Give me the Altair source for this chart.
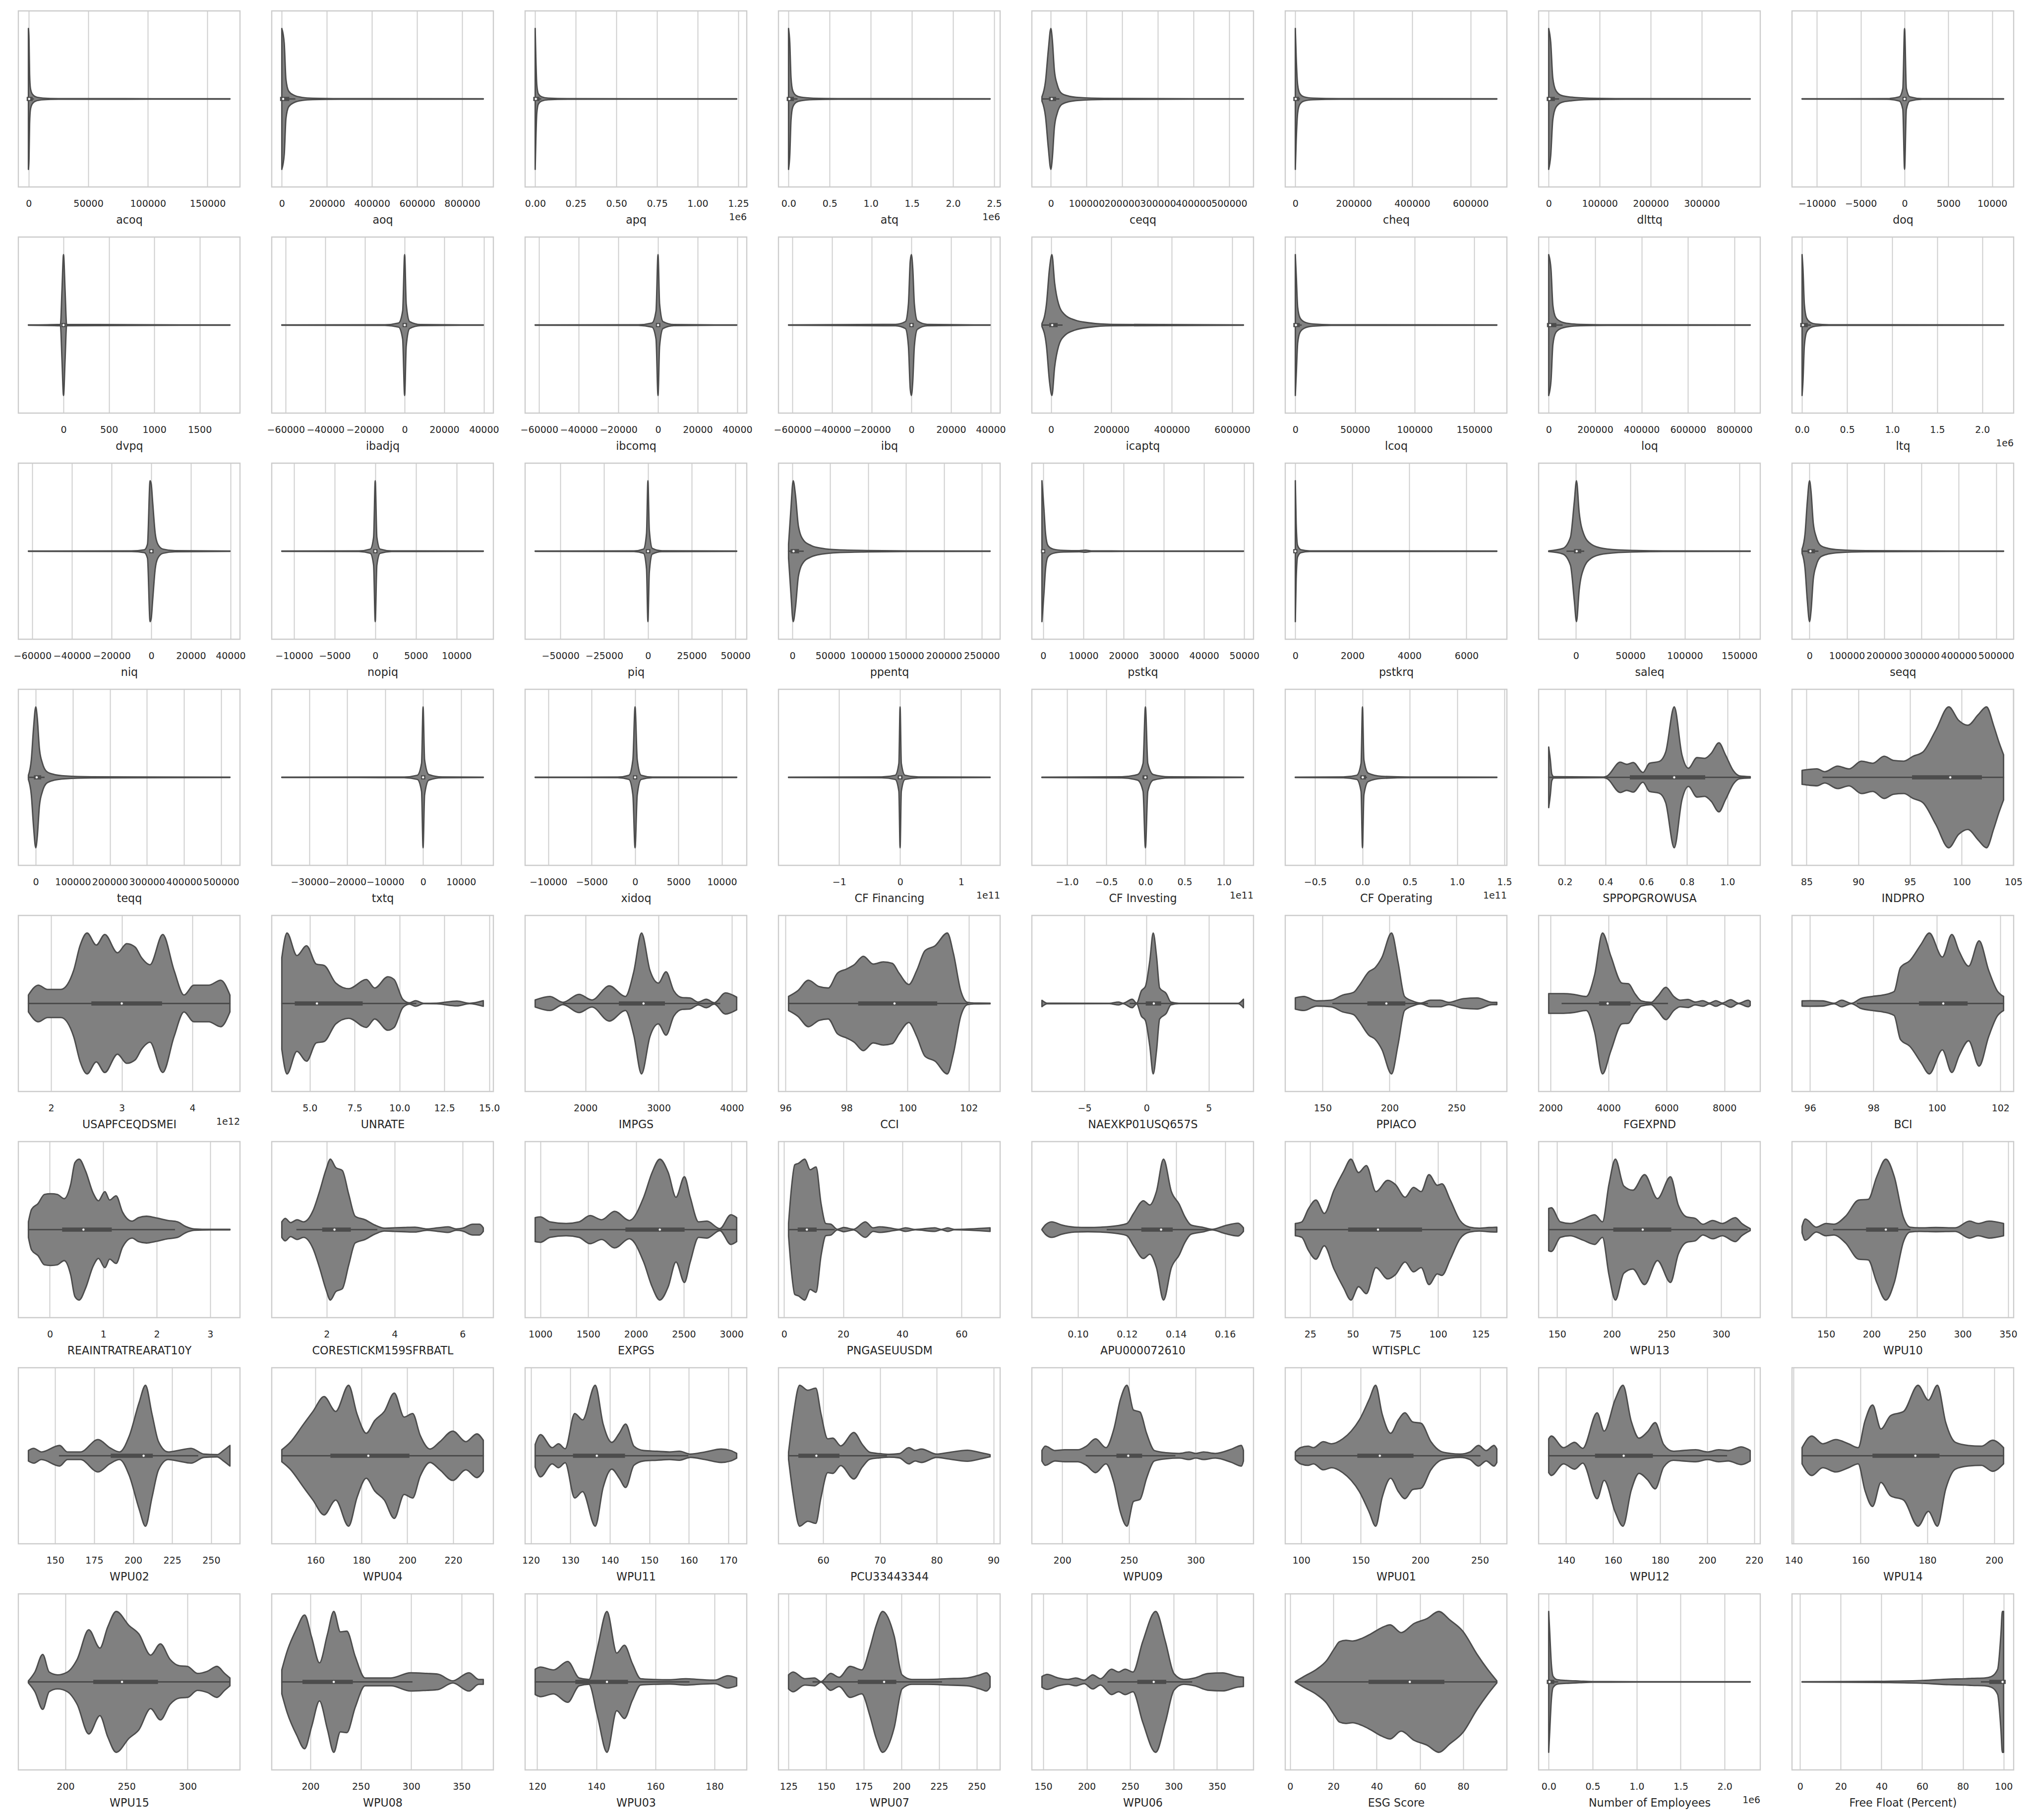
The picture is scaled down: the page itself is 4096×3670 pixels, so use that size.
import altair as alt
import pandas as pd

# ---------------- data (violin profiles) ----------------
# *_x : positions along the value axis, *_d : relative density (1 = widest point)
# *_box : [whisker low, q1, median, q3, whisker high], *_ticks : tick values

acoq_x = [-200, 300, 800, 1500, 3000, 6000, 12000, 25000, 168800]
acoq_d = [1.0, 0.85, 0.35, 0.15, 0.07, 0.03, 0.012, 0.005, 0.002]
acoq_box = [-200, 100, 400, 1600, 3800]
acoq_ticks = [0, 50000, 100000, 150000]

aoq_x = [0, 10800, 18300, 30500, 53500, 91700, 137500, 260000, 893600]
aoq_d = [1.0, 0.79, 0.28, 0.11, 0.053, 0.021, 0.01, 0.004, 0.002]
aoq_box = [0, 1500, 6000, 24000, 57000]
aoq_ticks = [0, 200000, 400000, 600000, 800000]

apq_x = [0, 0.004, 0.01, 0.02, 0.04, 0.08, 0.2, 1.24]
apq_d = [1.0, 0.6, 0.2, 0.07, 0.03, 0.012, 0.004, 0.002]
apq_box = [0, 0.001, 0.004, 0.014, 0.033]
apq_ticks = [0, 0.25, 0.5, 0.75, 1.0, 1.25]

atq_x = [0, 0.015, 0.03, 0.05, 0.09, 0.15, 0.3, 0.6, 2.45]
atq_d = [1.0, 0.8, 0.3, 0.12, 0.05, 0.025, 0.01, 0.004, 0.002]
atq_box = [0, 0.003, 0.01, 0.04, 0.1]
atq_ticks = [0, 0.5, 1.0, 1.5, 2.0, 2.5]

ceqq_x = [-25000, -15000, -7000, 0, 4000, 10000, 18000, 30000, 50000, 80000, 150000, 540000]
ceqq_d = [0.03, 0.25, 0.7, 1.0, 0.85, 0.4, 0.2, 0.08, 0.04, 0.02, 0.008, 0.002]
ceqq_box = [-25000, 500, 2500, 9000, 22000]
ceqq_ticks = [0, 100000, 200000, 300000, 400000, 500000]

cheq_x = [0, 3000, 8000, 15000, 30000, 60000, 150000, 690000]
cheq_d = [1.0, 0.6, 0.2, 0.08, 0.03, 0.012, 0.004, 0.002]
cheq_box = [0, 300, 1500, 6000, 14000]
cheq_ticks = [0, 200000, 400000, 600000]

dlttq_x = [0, 4000, 8000, 14000, 25000, 45000, 80000, 150000, 395000]
dlttq_d = [1.0, 0.8, 0.3, 0.12, 0.05, 0.025, 0.01, 0.004, 0.002]
dlttq_box = [0, 200, 1500, 8000, 19000]
dlttq_ticks = [0, 100000, 200000, 300000]

doq_x = [-11700, -2000, -600, -200, 0, 200, 600, 2000, 11300]
doq_d = [0.002, 0.005, 0.03, 0.15, 1.0, 0.15, 0.03, 0.005, 0.002]
doq_box = [-50, 0, 0, 0, 50]
doq_ticks = [-10000, -5000, 0, 5000, 10000]

dvpq_x = [-387, -34, -17, 0, 17, 34, 1834]
dvpq_d = [0.002, 0.01, 0.5, 1.0, 0.5, 0.01, 0.002]
dvpq_box = [-2, 0, 0, 1, 3]
dvpq_ticks = [0, 500, 1000, 1500]

ibadjq_x = [-62000, -10000, -3000, -1000, 0, 800, 2500, 8000, 39700]
ibadjq_d = [0.002, 0.005, 0.03, 0.2, 1.0, 0.3, 0.05, 0.008, 0.002]
ibadjq_box = [-300, 5, 40, 150, 370]
ibadjq_ticks = [-60000, -40000, -20000, 0, 20000, 40000]

ibcomq_x = [-62000, -10000, -3000, -1000, 0, 800, 2500, 8000, 39700]
ibcomq_d = [0.002, 0.005, 0.03, 0.2, 1.0, 0.3, 0.05, 0.008, 0.002]
ibcomq_box = [-300, 5, 40, 150, 370]
ibcomq_ticks = [-60000, -40000, -20000, 0, 20000, 40000]

ibq_x = [-62000, -8000, -3000, -1500, -600, 0, 700, 1500, 3000, 8000, 39700]
ibq_d = [0.002, 0.01, 0.05, 0.3, 0.9, 1.0, 0.8, 0.3, 0.06, 0.01, 0.002]
ibq_box = [-300, 5, 40, 150, 370]
ibq_ticks = [-60000, -40000, -20000, 0, 20000, 40000]

icaptq_x = [-30000, -15000, -5000, 3000, 12000, 25000, 45000, 80000, 130000, 200000, 637000]
icaptq_d = [0.02, 0.3, 0.8, 1.0, 0.6, 0.3, 0.15, 0.07, 0.03, 0.01, 0.002]
icaptq_box = [-30000, 1000, 4000, 15000, 36000]
icaptq_ticks = [0, 200000, 400000, 600000]

lcoq_x = [0, 800, 2000, 4000, 8000, 15000, 30000, 168900]
lcoq_d = [1.0, 0.7, 0.25, 0.1, 0.04, 0.015, 0.005, 0.002]
lcoq_box = [0, 100, 500, 2000, 4800]
lcoq_ticks = [0, 50000, 100000, 150000]

loq_x = [0, 10000, 18000, 30000, 52000, 90000, 135000, 250000, 868000]
loq_d = [1.0, 0.79, 0.28, 0.11, 0.05, 0.02, 0.01, 0.004, 0.002]
loq_box = [0, 1500, 6000, 24000, 57000]
loq_ticks = [0, 200000, 400000, 600000, 800000]

ltq_x = [0, 0.01, 0.025, 0.05, 0.09, 0.15, 0.3, 2.236]
ltq_d = [1.0, 0.8, 0.3, 0.1, 0.04, 0.015, 0.005, 0.002]
ltq_box = [0, 0.003, 0.01, 0.04, 0.09]
ltq_ticks = [0, 0.5, 1.0, 1.5, 2.0]

niq_x = [-62000, -10000, -3500, -1900, -600, 0, 700, 2000, 3300, 5900, 12000, 39700]
niq_d = [0.002, 0.004, 0.02, 0.1, 1.0, 0.95, 0.7, 0.25, 0.1, 0.03, 0.008, 0.002]
niq_box = [-300, 5, 40, 150, 370]
niq_ticks = [-60000, -40000, -20000, 0, 20000, 40000]

nopiq_x = [-11500, -2000, -600, -200, 0, 200, 600, 2000, 13300]
nopiq_d = [0.002, 0.005, 0.03, 0.2, 1.0, 0.2, 0.03, 0.005, 0.002]
nopiq_box = [-60, 0, 5, 30, 80]
nopiq_ticks = [-10000, -5000, 0, 5000, 10000]

piq_x = [-64400, -8000, -2500, -800, 0, 800, 2500, 8000, 50700]
piq_d = [0.002, 0.005, 0.03, 0.25, 1.0, 0.3, 0.04, 0.006, 0.002]
piq_box = [-400, 10, 70, 250, 600]
piq_ticks = [-50000, -25000, 0, 25000, 50000]

ppentq_x = [-5100, -2000, 1000, 4000, 8000, 15000, 25000, 40000, 60000, 100000, 150000, 261000]
ppentq_d = [0.1, 0.6, 1.0, 0.8, 0.35, 0.15, 0.08, 0.04, 0.02, 0.01, 0.005, 0.002]
ppentq_box = [-5100, 300, 1500, 6000, 14000]
ppentq_ticks = [0, 50000, 100000, 150000, 200000, 250000]

pstkq_x = [-300, 200, 600, 1200, 2500, 5000, 9000, 10500, 12000, 20000, 49800]
pstkq_d = [1.0, 0.6, 0.25, 0.08, 0.03, 0.012, 0.008, 0.015, 0.005, 0.003, 0.002]
pstkq_box = [-300, 0, 0, 0, 0]
pstkq_ticks = [0, 10000, 20000, 30000, 40000, 50000]

pstkrq_x = [0, 30, 80, 200, 500, 7064]
pstkrq_d = [1.0, 0.4, 0.08, 0.02, 0.005, 0.002]
pstkrq_box = [0, 0, 0, 0, 0]
pstkrq_ticks = [0, 2000, 4000, 6000]

saleq_x = [-25000, -12000, -5000, -1500, 500, 3000, 7000, 14000, 25000, 45000, 80000, 160000]
saleq_d = [0.005, 0.04, 0.2, 0.7, 1.0, 0.55, 0.25, 0.1, 0.04, 0.015, 0.005, 0.002]
saleq_box = [-8000, 100, 700, 3000, 7000]
saleq_ticks = [0, 50000, 100000, 150000]

seqq_x = [-20000, -12000, -6000, 0, 4000, 10000, 18000, 30000, 50000, 80000, 150000, 520000]
seqq_d = [0.03, 0.25, 0.7, 1.0, 0.85, 0.4, 0.2, 0.08, 0.04, 0.02, 0.008, 0.002]
seqq_box = [-20000, 500, 2500, 9000, 22000]
seqq_ticks = [0, 100000, 200000, 300000, 400000, 500000]

teqq_x = [-19800, -12000, -6000, 0, 4000, 10000, 18000, 30000, 50000, 80000, 150000, 523800]
teqq_d = [0.03, 0.25, 0.7, 1.0, 0.85, 0.4, 0.2, 0.08, 0.04, 0.02, 0.008, 0.002]
teqq_box = [-19800, 500, 2500, 9000, 22000]
teqq_ticks = [0, 100000, 200000, 300000, 400000, 500000]

txtq_x = [-37300, -5000, -1500, -400, 0, 400, 1500, 5000, 15900]
txtq_d = [0.002, 0.005, 0.03, 0.2, 1.0, 0.25, 0.04, 0.006, 0.002]
txtq_box = [-100, 0, 10, 50, 130]
txtq_ticks = [-30000, -20000, -10000, 0, 10000]

xidoq_x = [-11500, -2000, -700, -250, 0, 250, 700, 2000, 11700]
xidoq_d = [0.002, 0.004, 0.03, 0.25, 1.0, 0.25, 0.03, 0.004, 0.002]
xidoq_box = [-60, 0, 0, 10, 40]
xidoq_ticks = [-10000, -5000, 0, 5000, 10000]

cf_fin_x = [-1.83, -0.3, -0.08, -0.02, 0, 0.02, 0.08, 0.3, 1.476]
cf_fin_d = [0.003, 0.006, 0.03, 0.2, 1.0, 0.2, 0.03, 0.006, 0.003]
cf_fin_box = [-0.03, -0.005, 0, 0.005, 0.03]
cf_fin_ticks = [-1, 0, 1]

cf_inv_x = [-1.32, -0.3, -0.1, -0.03, 0, 0.03, 0.1, 0.3, 1.25]
cf_inv_d = [0.003, 0.008, 0.04, 0.2, 1.0, 0.2, 0.04, 0.008, 0.003]
cf_inv_box = [-0.03, -0.01, -0.001, 0.002, 0.02]
cf_inv_ticks = [-1.0, -0.5, 0.0, 0.5, 1.0]

cf_op_x = [-0.71, -0.2, -0.06, -0.015, 0, 0.015, 0.06, 0.2, 0.5, 1.42]
cf_op_d = [0.003, 0.006, 0.03, 0.2, 1.0, 0.25, 0.06, 0.015, 0.005, 0.003]
cf_op_box = [-0.02, 0, 0.003, 0.015, 0.04]
cf_op_ticks = [-0.5, 0.0, 0.5, 1.0, 1.5]

sppop_x = [0.12, 0.128, 0.135, 0.145, 0.39, 0.408, 0.472, 0.504, 0.536, 0.584, 0.616, 0.664,
           0.696, 0.738, 0.776, 0.808, 0.85, 0.888, 0.92, 0.958, 0.99, 1.03, 1.06, 1.112]
sppop_d = [0.43, 0.25, 0.05, 0.01, 0.005, 0.02, 0.215, 0.185, 0.21, 0.07, 0.2, 0.225,
           0.36, 1.0, 0.32, 0.13, 0.28, 0.27, 0.34, 0.49, 0.32, 0.09, 0.02, 0.01]
sppop_box = [0.12, 0.53, 0.738, 0.88, 1.112]
sppop_ticks = [0.2, 0.4, 0.6, 0.8, 1.0]

indpro_x = [84.56, 85.3, 86.0, 86.75, 88.0, 89.1, 90.3, 91.4, 92.5, 93.4, 94.4, 95.3, 96.25,
            97.5, 98.75, 99.7, 100.6, 101.6, 102.4, 103.1, 103.6, 104.05]
indpro_d = [0.10, 0.113, 0.12, 0.08, 0.16, 0.12, 0.23, 0.2, 0.3, 0.24, 0.23, 0.3, 0.36,
            0.67, 1.0, 0.81, 0.74, 0.89, 1.0, 0.73, 0.5, 0.32]
indpro_box = [86.6, 95.4, 98.9, 101.75, 104.05]
indpro_ticks = [85, 90, 95, 100, 105]

usapf_x = [1.68, 1.82, 1.95, 2.14, 2.32, 2.41, 2.51, 2.64, 2.76, 2.94, 3.07, 3.19, 3.28, 3.40,
           3.58, 3.74, 3.88, 4.02, 4.23, 4.40, 4.53]
usapf_d = [0.12, 0.26, 0.2, 0.2, 0.47, 0.82, 1.0, 0.83, 0.98, 0.72, 0.85, 0.8, 0.65, 0.55,
           0.98, 0.47, 0.12, 0.26, 0.26, 0.33, 0.12]
usapf_box = [1.68, 2.6, 3.0, 3.54, 4.53]
usapf_ticks = [2, 3, 4]

unrate_x = [3.44, 3.73, 4.28, 4.82, 5.36, 5.8, 6.45, 7.17, 8.15, 8.62, 9.35, 9.7, 10.18, 10.55,
            10.9, 11.34, 12.07, 13.2, 13.9, 14.67]
unrate_d = [0.65, 1.0, 0.68, 0.82, 0.56, 0.54, 0.29, 0.21, 0.34, 0.22, 0.38, 0.34, 0.06, 0.01,
            0.04, 0.003, 0.005, 0.035, 0.003, 0.04]
unrate_box = [3.44, 4.28, 5.4, 7.83, 10.9]
unrate_ticks = [5.0, 7.5, 10.0, 12.5, 15.0]

impgs_x = [1313, 1515, 1692, 1912, 2088, 2326, 2546, 2660, 2766, 2881, 2996, 3101, 3207, 3322,
           3427, 3542, 3650, 3760, 3912, 4066]
impgs_d = [0.05, 0.1, 0.016, 0.13, 0.05, 0.25, 0.1, 0.45, 1.0, 0.47, 0.29, 0.45, 0.18, 0.084,
           0.078, 0.02, 0.06, 0.01, 0.15, 0.09]
impgs_box = [1700, 2485, 2793, 3057, 3832]
impgs_ticks = [2000, 3000, 4000]

cci_x = [96.1, 96.4, 96.75, 97.1, 97.4, 97.7, 98.0, 98.25, 98.55, 98.87, 99.2, 99.5, 99.72,
         100.04, 100.3, 100.57, 100.9, 101.3, 101.5, 101.74, 101.96, 102.17, 102.7]
cci_d = [0.1, 0.18, 0.33, 0.24, 0.22, 0.43, 0.49, 0.55, 0.67, 0.56, 0.59, 0.57, 0.43,
         0.27, 0.47, 0.75, 0.82, 1.0, 0.71, 0.18, 0.016, 0.006, 0.005]
cci_box = [96.1, 98.45, 99.57, 100.9, 101.96]
cci_ticks = [96, 98, 100, 102]

naexk_x = [-8.42, -8.0, -3.0, -2.26, -1.9, -1.16, -0.8, -0.42, -0.1, 0.26, 0.53, 0.8, 1.05,
           1.58, 1.95, 2.6, 7.37, 7.79]
naexk_d = [0.045, 0.004, 0.003, 0.02, 0.003, 0.06, 0.006, 0.18, 0.24, 0.61, 1.0, 0.67, 0.22,
           0.14, 0.02, 0.003, 0.003, 0.06]
naexk_box = [-1.3, 0.1, 0.58, 1.0, 2.5]
naexk_ticks = [-5, 0, 5]

ppiaco_x = [129.6, 135.9, 145.6, 156.3, 165, 173.3, 177.2, 184.5, 189.3, 194.2, 201.5, 206.3,
            211.2, 217, 223.3, 230.6, 237.9, 244.2, 254.9, 265.5, 276.7, 280.1]
ppiaco_d = [0.08, 0.1, 0.037, 0.047, 0.12, 0.16, 0.25, 0.45, 0.51, 0.65, 1.0, 0.59,
            0.1, 0.037, 0.006, 0.047, 0.047, 0.016, 0.068, 0.078, 0.016, 0.016]
ppiaco_box = [157.8, 185, 197.6, 210.2, 228.2]
ppiaco_ticks = [150, 200, 250]

fgexp_x = [1933, 2447, 2783, 3230, 3520, 3790, 4081, 4461, 4685, 4909, 5133, 5468, 5692, 5982,
           6250, 6474, 6743, 6989, 7257, 7481, 7705, 7928, 8219, 8488, 8823, 8890]
fgexp_d = [0.14, 0.14, 0.13, 0.1, 0.41, 1.0, 0.67, 0.29, 0.28, 0.14, 0.037, 0.016, 0.1, 0.23,
           0.1, 0.047, 0.057, 0.02, 0.04, 0.006, 0.04, 0.006, 0.053, 0.003, 0.047, 0.03]
fgexp_box = [2403, 3745, 3969, 4685, 6027]
fgexp_ticks = [2000, 4000, 6000, 8000]

bci_x = [95.75, 96.0, 96.4, 96.76, 97.0, 97.3, 97.6, 97.96, 98.3, 98.65, 98.85, 99.15, 99.5,
         99.76, 100.17, 100.47, 100.7, 101.0, 101.33, 101.63, 101.9, 102.1]
bci_d = [0.037, 0.04, 0.037, 0.004, 0.047, 0.002, 0.07, 0.1, 0.12, 0.17, 0.51, 0.61, 0.84,
         1.0, 0.66, 0.98, 0.74, 0.53, 0.89, 0.47, 0.18, 0.1]
bci_box = [97.5, 99.5, 100.2, 100.9, 102.1]
bci_ticks = [96, 98, 100, 102]

reain_x = [-0.4, -0.34, -0.22, -0.1, 0.02, 0.14, 0.27, 0.39, 0.47, 0.55, 0.67, 0.81, 0.91, 1.03,
           1.12, 1.24, 1.36, 1.54, 1.66, 1.81, 1.97, 2.21, 2.39, 2.54, 2.7, 3.0, 3.37]
reain_d = [0.11, 0.29, 0.37, 0.5, 0.51, 0.5, 0.44, 0.64, 0.95, 1.0, 0.83, 0.52, 0.41, 0.54,
           0.42, 0.48, 0.25, 0.12, 0.17, 0.19, 0.17, 0.13, 0.11, 0.045, 0.01, 0.004, 0.004]
reain_box = [-0.4, 0.27, 0.63, 1.12, 2.33]
reain_ticks = [0, 1, 2, 3]

core_x = [0.68, 0.78, 0.94, 1.13, 1.32, 1.6, 1.79, 1.98, 2.11, 2.27, 2.46, 2.65, 2.84, 3.13,
          3.41, 3.7, 3.99, 4.28, 4.6, 4.95, 5.27, 5.58, 5.81, 6.0, 6.3, 6.5, 6.61]
core_d = [0.11, 0.16, 0.1, 0.14, 0.11, 0.27, 0.54, 0.85, 1.0, 0.88, 0.84, 0.5, 0.19, 0.14,
          0.066, 0.02, 0.025, 0.03, 0.035, 0.01, 0.025, 0.04, 0.01, 0.02, 0.076, 0.076, 0.025]
core_box = [1.13, 1.93, 2.23, 2.65, 3.47]
core_ticks = [2, 4, 6]

expgs_x = [946, 1000, 1101, 1270, 1405, 1520, 1642, 1777, 1932, 2081, 2169, 2250, 2338, 2419,
           2507, 2568, 2655, 2743, 2878, 2993, 3054]
expgs_d = [0.17, 0.18, 0.11, 0.087, 0.11, 0.2, 0.14, 0.26, 0.13, 0.46, 0.81, 1.0, 0.81, 0.46,
           0.75, 0.46, 0.11, 0.12, 0.014, 0.21, 0.17]
expgs_box = [1101, 1912, 2250, 2487, 3054]
expgs_ticks = [1000, 1500, 2000, 2500, 3000]

pngas_x = [1.5, 2.5, 3.6, 4.8, 7.0, 8.8, 10.8, 12.5, 14.1, 15.8, 18.0, 20.2, 23.5, 27.5, 30.1,
           32.3, 35.6, 38.9, 41.1, 44.4, 51.0, 53.2, 55.4, 57.6, 69.7]
pngas_d = [0.09, 0.6, 0.92, 0.94, 1.0, 0.85, 0.89, 0.37, 0.087, 0.077, 0.004, 0.03, 0.005, 0.11,
           0.025, 0.04, 0.025, 0.004, 0.025, 0.003, 0.025, 0.003, 0.025, 0.003, 0.025]
pngas_box = [1.5, 5.3, 7.7, 10.3, 16.9]
pngas_ticks = [0, 20, 40, 60]

apu_x = [0.0853, 0.0867, 0.0893, 0.0933, 0.0987, 0.104, 0.1093, 0.116, 0.12, 0.1227, 0.1267,
         0.1293, 0.132, 0.1349, 0.1381, 0.1413, 0.1435, 0.1461, 0.1507, 0.1547, 0.16, 0.1653,
         0.1675]
apu_d = [0.004, 0.066, 0.11, 0.066, 0.035, 0.03, 0.035, 0.056, 0.087, 0.23, 0.41, 0.35, 0.54,
         1.0, 0.54, 0.36, 0.19, 0.066, 0.035, 0.004, 0.056, 0.09, 0.025]
apu_box = [0.112, 0.1267, 0.1339, 0.1378, 0.1547]
apu_ticks = [0.10, 0.12, 0.14, 0.16]

wti_x = [16.3, 20.1, 23.9, 28.4, 33.3, 39.0, 44.7, 48.9, 53.4, 57.95, 63.6, 70.5, 75, 80.7, 85.6,
         90.15, 94.7, 99.6, 102.3, 107.2, 112.9, 118.6, 124.2, 129.9, 134.5]
wti_d = [0.087, 0.11, 0.29, 0.42, 0.23, 0.56, 0.83, 1.0, 0.81, 0.91, 0.54, 0.7, 0.64, 0.46, 0.6,
         0.54, 0.78, 0.63, 0.65, 0.42, 0.13, 0.035, 0.02, 0.03, 0.035]
wti_box = [16.3, 48.5, 64.8, 89.4, 118.6]
wti_ticks = [25, 50, 75, 100, 125]

wpu13_x = [142.3, 144.7, 153, 161.9, 173.7, 184.4, 191.5, 197.4, 203.3, 211, 219.3, 230, 241.8,
           253.7, 260.8, 268.5, 276.2, 283.3, 292.2, 301.1, 313, 318.9, 326.6]
wpu13_d = [0.3, 0.31, 0.11, 0.087, 0.15, 0.21, 0.11, 0.64, 1.0, 0.62, 0.56, 0.78, 0.44,
           0.75, 0.35, 0.18, 0.16, 0.076, 0.13, 0.087, 0.17, 0.087, 0.014]
wpu13_box = [142.3, 203.3, 228.3, 252.5, 323.6]
wpu13_ticks = [150, 200, 250, 300]

wpu10_x = [123.7, 127.2, 139.3, 150, 158.5, 171.5, 185.8, 196.4, 205.7, 215.7, 225, 235.1, 242.2,
           252.8, 270.6, 292, 307.7, 317, 329.1, 345]
wpu10_d = [0.045, 0.15, 0.035, 0.087, 0.076, 0.19, 0.42, 0.43, 0.75, 1.0, 0.75, 0.17, 0.035,
           0.025, 0.03, 0.025, 0.12, 0.087, 0.12, 0.087]
wpu10_box = [158.5, 196.3, 215.7, 227, 242]
wpu10_ticks = [150, 200, 250, 300, 350]

wpu02_x = [132.9, 136.25, 141.25, 152.9, 157.9, 166.25, 177.5, 185, 191.25, 197.5, 203.75, 207.9,
           212.1, 216.25, 222.5, 228.75, 237.1, 245.4, 253.75, 257.9, 262]
wpu02_d = [0.075, 0.105, 0.054, 0.146, 0.054, 0.054, 0.23, 0.115, 0.054, 0.28, 0.75, 1.0,
           0.59, 0.2, 0.054, 0.075, 0.105, 0.023, 0.016, 0.075, 0.146]
wpu02_box = [152.9, 187, 206.7, 211.25, 241.25]
wpu02_ticks = [150, 175, 200, 225, 250]

wpu04_x = [145.3, 148.95, 154.6, 158.9, 163.7, 168.8, 174.4, 178.1, 182.1, 185.8, 190, 194.3,
           198.6, 202.3, 205.6, 209.9, 214.2, 219.8, 225.5, 230.3, 233.1]
wpu04_d = [0.085, 0.19, 0.44, 0.63, 0.84, 0.63, 1.0, 0.59, 0.32, 0.5, 0.63, 0.89,
           0.55, 0.6, 0.29, 0.095, 0.2, 0.35, 0.2, 0.31, 0.22]
wpu04_box = [145.3, 167.4, 183, 200, 233.1]
wpu04_ticks = [160, 180, 200, 220]

wpu11_x = [121.1, 122.45, 125.4, 127, 128.7, 131.1, 133.1, 136.3, 138.3, 140.5, 142.4, 144.0,
           146.1, 148.6, 151.9, 155.1, 157.6, 160.4, 164.1, 168.2, 170.6, 172.1]
wpu11_d = [0.16, 0.3, 0.115, 0.17, 0.1, 0.6, 0.51, 1.0, 0.45, 0.19, 0.32, 0.45,
           0.136, 0.074, 0.064, 0.054, 0.064, 0.023, 0.054, 0.095, 0.074, 0.033]
wpu11_box = [121.1, 131.2, 136.7, 143.3, 159.7]
wpu11_ticks = [120, 130, 140, 150, 160, 170]

pcu_x = [53.9, 54.7, 55.85, 57.3, 58.7, 59.6, 60.8, 61.7, 63.1, 65.4, 66.9, 68.2, 69.9, 71.6,
         73.4, 75.1, 76.2, 77.3, 80.0, 82.0, 85.4, 87.7, 89.4]
pcu_d = [0.05, 0.55, 1.0, 0.93, 0.96, 0.6, 0.24, 0.25, 0.14, 0.33, 0.16, 0.05, 0.03, 0.02,
         0.03, 0.115, 0.075, 0.095, 0.023, 0.045, 0.078, 0.045, 0.015]
pcu_box = [53.9, 56, 58.8, 62.5, 71.1]
pcu_ticks = [60, 70, 80, 90]

wpu09_x = [184.8, 187.3, 194.6, 202, 211.8, 218.1, 225, 232.8, 238.7, 243.6, 248.5, 253.4, 258.3,
           263.2, 269.1, 277.9, 287.7, 295.1, 300, 305.9, 314.7, 327, 334.3, 335.8]
wpu09_d = [0.074, 0.136, 0.074, 0.085, 0.085, 0.136, 0.24, 0.115, 0.38, 0.8, 1.0, 0.65, 0.62,
           0.32, 0.074, 0.043, 0.033, 0.054, 0.033, 0.054, 0.033, 0.095, 0.146, 0.074]
wpu09_box = [218.1, 242.2, 249.5, 258.3, 284.3]
wpu09_ticks = [200, 250, 300]

wpu01_x = [95.1, 99.45, 106, 110.4, 118.5, 125.6, 134.9, 142, 148.9, 157.1, 162.5, 168, 175.1,
           181.6, 187.1, 193.6, 200.7, 208.9, 217.1, 225.3, 233.5, 241.7, 248.8, 255.3, 261.9,
           264.2]
wpu01_d = [0.054, 0.115, 0.136, 0.115, 0.2, 0.17, 0.24, 0.35, 0.51, 0.8, 1.0, 0.59, 0.32,
           0.51, 0.61, 0.48, 0.46, 0.2, 0.064, 0.033, 0.023, 0.054, 0.146, 0.074, 0.146, 0.095]
wpu01_box = [95.1, 148.9, 166, 192.5, 249.9]
wpu01_ticks = [100, 150, 200, 250]

wpu12_x = [132.6, 133.7, 138.9, 143.6, 147.1, 153.2, 156.2, 160.9, 164.2, 167.7, 171, 174.6,
           177.9, 181.5, 185.6, 189.7, 195.2, 200.2, 204.9, 209, 214.5, 218.3]
wpu12_d = [0.24, 0.28, 0.115, 0.19, 0.105, 0.61, 0.35, 0.8, 1.0, 0.49, 0.25, 0.34,
           0.47, 0.16, 0.064, 0.074, 0.085, 0.054, 0.085, 0.074, 0.126, 0.074]
wpu12_box = [132.6, 153.2, 164.5, 176, 208.2]
wpu12_ticks = [140, 160, 180, 200, 220]

wpu14_x = [142.5, 145.4, 148.7, 152.6, 156.4, 159.3, 161.3, 163.6, 166.1, 169, 172.9, 177.2,
           180.3, 183, 185.5, 188.4, 192.3, 196.2, 199.5, 202.8]
wpu14_d = [0.115, 0.28, 0.17, 0.23, 0.17, 0.115, 0.49, 0.72, 0.38, 0.57, 0.63, 1.0,
           0.79, 1.0, 0.47, 0.19, 0.146, 0.136, 0.22, 0.115]
wpu14_box = [142.5, 164.2, 176.4, 183, 202.8]
wpu14_ticks = [140, 160, 180, 200]

wpu15_x = [169.7, 175, 181.4, 186.7, 193.6, 201.6, 209.6, 219.1, 228.2, 234.6, 241.5, 252.1,
           260.1, 269.7, 277.7, 285.6, 293.1, 300, 308, 316, 324, 330.3, 334.6]
wpu15_d = [0.015, 0.14, 0.39, 0.14, 0.1, 0.14, 0.32, 0.74, 0.48, 0.78, 1.0, 0.8,
           0.68, 0.38, 0.54, 0.32, 0.23, 0.22, 0.12, 0.15, 0.22, 0.12, 0.056]
wpu15_box = [169.7, 224.5, 246.3, 274, 334.6]
wpu15_ticks = [200, 250, 300]

wpu08_x = [171.6, 176.8, 186.5, 194.2, 201.3, 209, 216.8, 223.2, 229.7, 236.1, 244.5, 254.2,
           263.9, 280, 299.4, 315.5, 326.5, 341.3, 357.4, 367.1, 371.6]
wpu08_d = [0.17, 0.43, 0.76, 0.95, 0.63, 0.27, 0.67, 1.0, 0.71, 0.72, 0.36, 0.056,
           0.056, 0.056, 0.13, 0.12, 0.11, 0.015, 0.13, 0.035, 0.035]
wpu08_box = [171.6, 194.2, 223.2, 240, 300.6]
wpu08_ticks = [200, 250, 300, 350]

wpu03_x = [119.3, 121.1, 125.5, 130.3, 134.2, 137.5, 140.3, 143.6, 146.9, 149.5, 152.2, 155,
           159.4, 164.8, 170.3, 174.6, 180.1, 184.5, 187.5]
wpu03_d = [0.18, 0.21, 0.17, 0.29, 0.056, 0.035, 0.47, 1.0, 0.41, 0.52, 0.26, 0.045,
           0.035, 0.03, 0.045, 0.035, 0.025, 0.087, 0.056]
wpu03_box = [119.3, 133.6, 143.6, 150, 171.3]
wpu03_ticks = [120, 140, 160, 180]

wpu07_x = [125, 128, 135.8, 142.2, 146.6, 153, 158.6, 165.9, 173.7, 178.9, 183.2, 187.5, 195.2,
           200.4, 206.9, 217.7, 230.6, 243.6, 252.2, 256.5, 258.9]
wpu07_d = [0.1, 0.14, 0.045, 0.056, 0.004, 0.12, 0.066, 0.22, 0.17, 0.47, 0.8, 1.0, 0.65,
           0.1, 0.035, 0.035, 0.045, 0.056, 0.1, 0.13, 0.076]
wpu07_box = [141.4, 172.4, 188.5, 195.2, 226.5]
wpu07_ticks = [125, 150, 175, 200, 225, 250]

wpu06_x = [148.5, 154.5, 167.2, 178.4, 187.4, 197.2, 206.9, 215.9, 228.6, 236.8, 244.3, 253.3,
           264.5, 279.5, 290.7, 300.5, 311.7, 324.4, 339.4, 356.6, 373, 380.5]
wpu06_d = [0.076, 0.107, 0.056, 0.035, 0.056, 0.025, 0.1, 0.045, 0.18, 0.14, 0.18, 0.14,
           0.57, 1.0, 0.57, 0.118, 0.035, 0.056, 0.118, 0.128, 0.076, 0.066]
wpu06_box = [224.8, 260.7, 277.2, 289.2, 320.7]
wpu06_ticks = [150, 200, 250, 300, 350]

esg_x = [2.4, 6.3, 12.3, 16.8, 20.4, 22.8, 25.8, 28.8, 33.3, 37.2, 42.3, 46.2, 51.3, 57.3, 63.3,
         68.7, 73.8, 79.8, 86.4, 91.2, 95.5]
esg_d = [0.004, 0.076, 0.18, 0.3, 0.47, 0.57, 0.59, 0.58, 0.62, 0.68, 0.77, 0.81, 0.7, 0.83, 0.9,
         1.0, 0.88, 0.72, 0.39, 0.18, 0.015]
esg_box = [2.4, 37.2, 55.3, 70.3, 95.5]
esg_ticks = [0, 20, 40, 60, 80]

emp_x = [0, 0.012, 0.03, 0.05, 0.1, 0.2, 0.35, 0.5, 1.0, 2.29]
emp_d = [1.0, 0.7, 0.26, 0.08, 0.03, 0.02, 0.012, 0.005, 0.003, 0.002]
emp_box = [0, 0.002, 0.01, 0.04, 0.1]
emp_ticks = [0.0, 0.5, 1.0, 1.5, 2.0]

ffloat_x = [1, 38, 60.5, 73.2, 81.2, 84.4, 90.8, 94, 97.1, 98.7, 99.4, 100]
ffloat_d = [0.003, 0.008, 0.02, 0.04, 0.045, 0.05, 0.056, 0.076, 0.18, 0.68, 1.0, 1.0]
ffloat_box = [89.2, 94, 99.5, 100, 100]
ffloat_ticks = [0, 20, 40, 60, 80, 100]

# (axis title, x, density, box, ticks, tick format, offset text)
PANELS = [
    ("acoq", acoq_x, acoq_d, acoq_box, acoq_ticks, "d", None),
    ("aoq", aoq_x, aoq_d, aoq_box, aoq_ticks, "d", None),
    ("apq", apq_x, apq_d, apq_box, apq_ticks, ".2f", "1e6"),
    ("atq", atq_x, atq_d, atq_box, atq_ticks, ".1f", "1e6"),
    ("ceqq", ceqq_x, ceqq_d, ceqq_box, ceqq_ticks, "d", None),
    ("cheq", cheq_x, cheq_d, cheq_box, cheq_ticks, "d", None),
    ("dlttq", dlttq_x, dlttq_d, dlttq_box, dlttq_ticks, "d", None),
    ("doq", doq_x, doq_d, doq_box, doq_ticks, "d", None),
    ("dvpq", dvpq_x, dvpq_d, dvpq_box, dvpq_ticks, "d", None),
    ("ibadjq", ibadjq_x, ibadjq_d, ibadjq_box, ibadjq_ticks, "d", None),
    ("ibcomq", ibcomq_x, ibcomq_d, ibcomq_box, ibcomq_ticks, "d", None),
    ("ibq", ibq_x, ibq_d, ibq_box, ibq_ticks, "d", None),
    ("icaptq", icaptq_x, icaptq_d, icaptq_box, icaptq_ticks, "d", None),
    ("lcoq", lcoq_x, lcoq_d, lcoq_box, lcoq_ticks, "d", None),
    ("loq", loq_x, loq_d, loq_box, loq_ticks, "d", None),
    ("ltq", ltq_x, ltq_d, ltq_box, ltq_ticks, ".1f", "1e6"),
    ("niq", niq_x, niq_d, niq_box, niq_ticks, "d", None),
    ("nopiq", nopiq_x, nopiq_d, nopiq_box, nopiq_ticks, "d", None),
    ("piq", piq_x, piq_d, piq_box, piq_ticks, "d", None),
    ("ppentq", ppentq_x, ppentq_d, ppentq_box, ppentq_ticks, "d", None),
    ("pstkq", pstkq_x, pstkq_d, pstkq_box, pstkq_ticks, "d", None),
    ("pstkrq", pstkrq_x, pstkrq_d, pstkrq_box, pstkrq_ticks, "d", None),
    ("saleq", saleq_x, saleq_d, saleq_box, saleq_ticks, "d", None),
    ("seqq", seqq_x, seqq_d, seqq_box, seqq_ticks, "d", None),
    ("teqq", teqq_x, teqq_d, teqq_box, teqq_ticks, "d", None),
    ("txtq", txtq_x, txtq_d, txtq_box, txtq_ticks, "d", None),
    ("xidoq", xidoq_x, xidoq_d, xidoq_box, xidoq_ticks, "d", None),
    ("CF Financing", cf_fin_x, cf_fin_d, cf_fin_box, cf_fin_ticks, "d", "1e11"),
    ("CF Investing", cf_inv_x, cf_inv_d, cf_inv_box, cf_inv_ticks, ".1f", "1e11"),
    ("CF Operating", cf_op_x, cf_op_d, cf_op_box, cf_op_ticks, ".1f", "1e11"),
    ("SPPOPGROWUSA", sppop_x, sppop_d, sppop_box, sppop_ticks, ".1f", None),
    ("INDPRO", indpro_x, indpro_d, indpro_box, indpro_ticks, "d", None),
    ("USAPFCEQDSMEI", usapf_x, usapf_d, usapf_box, usapf_ticks, "d", "1e12"),
    ("UNRATE", unrate_x, unrate_d, unrate_box, unrate_ticks, ".1f", None),
    ("IMPGS", impgs_x, impgs_d, impgs_box, impgs_ticks, "d", None),
    ("CCI", cci_x, cci_d, cci_box, cci_ticks, "d", None),
    ("NAEXKP01USQ657S", naexk_x, naexk_d, naexk_box, naexk_ticks, "d", None),
    ("PPIACO", ppiaco_x, ppiaco_d, ppiaco_box, ppiaco_ticks, "d", None),
    ("FGEXPND", fgexp_x, fgexp_d, fgexp_box, fgexp_ticks, "d", None),
    ("BCI", bci_x, bci_d, bci_box, bci_ticks, "d", None),
    ("REAINTRATREARAT10Y", reain_x, reain_d, reain_box, reain_ticks, "d", None),
    ("CORESTICKM159SFRBATL", core_x, core_d, core_box, core_ticks, "d", None),
    ("EXPGS", expgs_x, expgs_d, expgs_box, expgs_ticks, "d", None),
    ("PNGASEUUSDM", pngas_x, pngas_d, pngas_box, pngas_ticks, "d", None),
    ("APU000072610", apu_x, apu_d, apu_box, apu_ticks, ".2f", None),
    ("WTISPLC", wti_x, wti_d, wti_box, wti_ticks, "d", None),
    ("WPU13", wpu13_x, wpu13_d, wpu13_box, wpu13_ticks, "d", None),
    ("WPU10", wpu10_x, wpu10_d, wpu10_box, wpu10_ticks, "d", None),
    ("WPU02", wpu02_x, wpu02_d, wpu02_box, wpu02_ticks, "d", None),
    ("WPU04", wpu04_x, wpu04_d, wpu04_box, wpu04_ticks, "d", None),
    ("WPU11", wpu11_x, wpu11_d, wpu11_box, wpu11_ticks, "d", None),
    ("PCU33443344", pcu_x, pcu_d, pcu_box, pcu_ticks, "d", None),
    ("WPU09", wpu09_x, wpu09_d, wpu09_box, wpu09_ticks, "d", None),
    ("WPU01", wpu01_x, wpu01_d, wpu01_box, wpu01_ticks, "d", None),
    ("WPU12", wpu12_x, wpu12_d, wpu12_box, wpu12_ticks, "d", None),
    ("WPU14", wpu14_x, wpu14_d, wpu14_box, wpu14_ticks, "d", None),
    ("WPU15", wpu15_x, wpu15_d, wpu15_box, wpu15_ticks, "d", None),
    ("WPU08", wpu08_x, wpu08_d, wpu08_box, wpu08_ticks, "d", None),
    ("WPU03", wpu03_x, wpu03_d, wpu03_box, wpu03_ticks, "d", None),
    ("WPU07", wpu07_x, wpu07_d, wpu07_box, wpu07_ticks, "d", None),
    ("WPU06", wpu06_x, wpu06_d, wpu06_box, wpu06_ticks, "d", None),
    ("ESG Score", esg_x, esg_d, esg_box, esg_ticks, "d", None),
    ("Number of Employees", emp_x, emp_d, emp_box, emp_ticks, ".1f", "1e6"),
    ("Free Float (Percent)", ffloat_x, ffloat_d, ffloat_box, ffloat_ticks, "d", None),
]

# ---------------- styling ----------------
FILL = "#808080"
EDGE = "#4c4c4c"
FRAME = "#cccccc"
TEXT = "#262626"
FONT = "DejaVu Sans"
LABEL_SIZE = 19
TITLE_SIZE = 22.2
W, H = 447, 355
HALF = 0.4          # max half-width of a violin in category units
NCOL = 8


def panel(label, xs, ds, box, ticks, fmt, offset):
    lo, hi = min(xs), max(xs)
    r = hi - lo
    xsc = alt.Scale(domain=[lo - 0.05 * r, hi + 0.05 * r], nice=False, zero=False)
    ysc = alt.Scale(domain=[-0.5, 0.5], nice=False, zero=False)
    axis = alt.Axis(values=ticks, format=fmt, title=label)

    vdf = pd.DataFrame({"v": xs,
                        "lo": [-HALF * d for d in ds],
                        "hi": [HALF * d for d in ds]})
    area = alt.Chart(vdf).mark_area(
        fill=FILL, stroke=EDGE, strokeWidth=2.8, interpolate="monotone",
        strokeJoin="round", opacity=1
    ).encode(
        x=alt.X("v:Q", scale=xsc, axis=axis),
        y=alt.Y("lo:Q", scale=ysc, axis=None),
        y2="hi:Q",
    )

    bdf = pd.DataFrame({"wlo": [box[0]], "q1": [box[1]], "med": [box[2]],
                        "q3": [box[3]], "whi": [box[4]], "c": [0.0]})
    whisk = alt.Chart(bdf).mark_rule(color=EDGE, strokeWidth=2.8, strokeCap="square").encode(
        x=alt.X("wlo:Q", title=label), x2="whi:Q", y=alt.Y("c:Q", axis=None))
    boxr = alt.Chart(bdf).mark_rule(color=EDGE, strokeWidth=8.5, strokeCap="square").encode(
        x=alt.X("q1:Q", title=label), x2="q3:Q", y=alt.Y("c:Q", axis=None))
    med = alt.Chart(bdf).mark_circle(color="white", stroke=EDGE, strokeWidth=1,
                                     size=30, opacity=1).encode(
        x=alt.X("med:Q", title=label), y=alt.Y("c:Q", axis=None))
    layers = [area, whisk, boxr, med]
    if offset:
        t = alt.Chart(pd.DataFrame({"t": [offset]})).mark_text(
            align="right", baseline="middle", font=FONT, fontSize=LABEL_SIZE, color=TEXT
        ).encode(text="t:N", x=alt.value(W), y=alt.value(H + 61))
        layers.append(t)
    return alt.layer(*layers).properties(width=W, height=H)


chart = alt.concat(
    *[panel(*p) for p in PANELS],
    columns=NCOL,
    spacing={"row": 101, "column": 64},
    bounds="flush",
).properties(
    padding={"left": 25, "top": 20, "right": 5, "bottom": 5},
    background="white",
).configure_view(
    stroke=FRAME, strokeWidth=2.4
).configure_axis(
    grid=True, gridColor=FRAME, gridWidth=1.9, ticks=False, domain=False,
    labelFont=FONT, labelFontSize=LABEL_SIZE, labelColor=TEXT, labelPadding=24,
    labelFlush=False, labelOverlap=False, labelBound=False,
    titleFont=FONT, titleFontSize=TITLE_SIZE, titleColor=TEXT, titleFontWeight="normal",
    titlePadding=12,
)

chart.save("out.html", embed_options={"renderer": "svg", "actions": False})
